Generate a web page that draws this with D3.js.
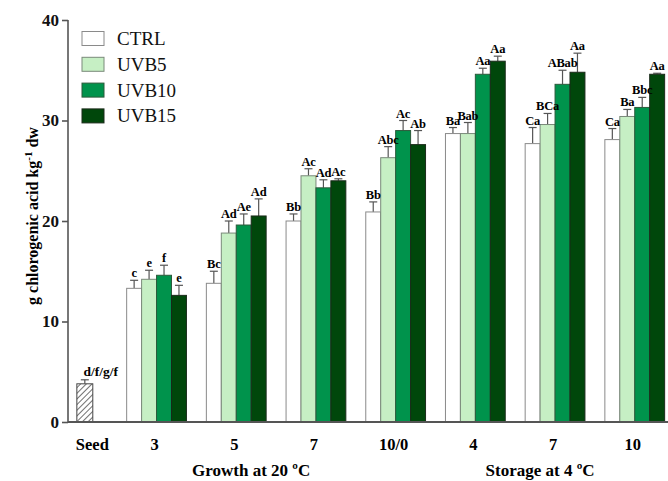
<!DOCTYPE html>
<html>
<head>
<meta charset="utf-8">
<script src="https://cdn.jsdelivr.net/npm/d3@7"></script>
<style>
  body { margin: 0; background: #fff; }
  svg { display: block; font-family: "Liberation Serif", "DejaVu Serif", serif; }
</style>
</head>
<body>
<svg id="chart" width="668" height="481"></svg>
<script>
// data
const series = ['CTRL', 'UVB5', 'UVB10', 'UVB15'];
const timepoints = ['3', '5', '7', '10/0', '4', '7 ', '10'];
const tickLabels = ['3', '5', '7', '10/0', '4', '7', '10'];
const phases = ['Growth at 20 \u00baC', 'Storage at 4 \u00baC'];
// label sits inside this group band, at this fraction of its width
const phaseAnchor = [['5', 0.75], ['7 ', 0.25]];

const ctrl  = [13.3, 13.8, 20.0, 20.9, 28.7, 27.7, 28.1];
const uvb5  = [14.2, 18.8, 24.5, 26.3, 28.7, 29.6, 30.4];
const uvb10 = [14.6, 19.6, 23.3, 29.0, 34.6, 33.6, 31.3];
const uvb15 = [12.6, 20.5, 24.0, 27.6, 35.9, 34.8, 34.6];

const ctrlErr  = [0.8, 1.2, 0.7, 1.0, 0.6, 1.6, 1.1];
const uvb5Err  = [0.9, 1.2, 0.7, 1.1, 1.1, 1.1, 0.7];
const uvb10Err = [1.0, 1.1, 0.8, 1.0, 0.6, 1.4, 1.0];
const uvb15Err = [1.0, 1.7, 0.2, 1.4, 0.5, 1.9, 0.1];

const ctrlLetters  = ['c', 'Bc', 'Bb', 'Bb', 'Ba', 'Ca', 'Ca'];
const uvb5Letters  = ['e', 'Ad', 'Ac', 'Abc', 'Bab', 'BCa', 'Ba'];
const uvb10Letters = ['f', 'Ae', 'Ad', 'Ac', 'Aa', 'ABab', 'Bbc'];
const uvb15Letters = ['e', 'Ad', 'Ac', 'Ab', 'Aa', 'Aa', 'Aa'];

const seedValue = 3.8;
const seedErr = 0.4;
const seedLetter = 'd/f/g/f';

const yTicks = [0, 10, 20, 30, 40];
const colors = ['#ffffff', '#c6efc4', '#00934c', '#00470b'];
const strokes = ['#8a8a8a', '#7a8a7a', '#2b5a3b', '#1a2a1a'];

const values = [ctrl, uvb5, uvb10, uvb15];
const errs = [ctrlErr, uvb5Err, uvb10Err, uvb15Err];
const letters = [ctrlLetters, uvb5Letters, uvb10Letters, uvb15Letters];

const svg = d3.select('#chart');
const axisX = 68, baseY = 422, topY = 20, rightX = 668;

const y = d3.scaleLinear().domain([0, 40]).range([baseY, topY]);
const x0 = d3.scaleBand().domain(['Seed'].concat(timepoints))
  .range([37, 674.6]).paddingInner(0.25).paddingOuter(0.125);
const x1 = d3.scaleBand().domain(series).range([0, x0.bandwidth()]);

// hatch for seed
const defs = svg.append('defs');
const pat = defs.append('pattern').attr('id', 'hatch').attr('patternUnits', 'userSpaceOnUse')
  .attr('width', 4).attr('height', 4).attr('patternTransform', 'rotate(45)');
pat.append('rect').attr('width', 4).attr('height', 4).attr('fill', '#fff');
pat.append('line').attr('x1', 0).attr('y1', 0).attr('x2', 0).attr('y2', 4)
  .attr('stroke', '#333').attr('stroke-width', 1.4);

const rows = [];
timepoints.forEach((t, i) => {
  series.forEach((s, j) => {
    rows.push({ t, s, j, v: values[j][i], e: errs[j][i], l: letters[j][i] });
  });
});

const bx = d => x0(d.t) + x1(d.s);
const bw = x1.bandwidth();

// error bars (drawn first so bars cover the lower half)
const errG = svg.append('g').attr('stroke', '#555').attr('stroke-width', 1.2);
rows.forEach(d => {
  const cx = bx(d) + bw / 2;
  errG.append('line').attr('x1', cx).attr('x2', cx).attr('y1', y(d.v)).attr('y2', y(d.v + d.e));
  errG.append('line').attr('x1', cx - 4).attr('x2', cx + 4).attr('y1', y(d.v + d.e)).attr('y2', y(d.v + d.e));
});

svg.append('g').selectAll('rect').data(rows).join('rect')
  .attr('x', bx).attr('width', bw)
  .attr('y', d => y(d.v)).attr('height', d => y(0) - y(d.v))
  .attr('fill', d => colors[d.j]).attr('stroke', d => strokes[d.j]).attr('stroke-width', 1);

svg.append('g').selectAll('text').data(rows).join('text')
  .attr('x', d => bx(d) + bw / 2).attr('y', d => y(d.v + d.e) - 3)
  .attr('text-anchor', 'middle').attr('font-size', 12.5).attr('font-weight', 'bold')
  .attr('letter-spacing', -0.2)
  .text(d => d.l);

// seed bar
const seedX = x0('Seed') + x0.bandwidth() / 2;
const seedW = bw + 1;
errG.append('line').attr('x1', seedX + seedW / 2).attr('x2', seedX + seedW / 2)
  .attr('y1', y(seedValue)).attr('y2', y(seedValue + seedErr));
errG.append('line').attr('x1', seedX + seedW / 2 - 4).attr('x2', seedX + seedW / 2 + 4)
  .attr('y1', y(seedValue + seedErr)).attr('y2', y(seedValue + seedErr));
svg.append('rect').attr('x', seedX).attr('width', seedW)
  .attr('y', y(seedValue)).attr('height', y(0) - y(seedValue))
  .attr('fill', 'url(#hatch)').attr('stroke', '#444').attr('stroke-width', 1);
svg.append('text').attr('x', seedX + seedW / 2 + 16).attr('y', y(seedValue + seedErr) - 4)
  .attr('text-anchor', 'middle').attr('font-size', 13.5).attr('font-weight', 'bold').text(seedLetter);

// y axis
const yAxis = svg.append('g').attr('transform', `translate(${axisX},0)`)
  .call(d3.axisLeft(y).tickValues(yTicks).tickSize(6).tickPadding(3));
yAxis.select('.domain').attr('stroke', '#555').attr('stroke-width', 1.6).attr('d', `M0,${topY}V${baseY}`);
yAxis.selectAll('.tick line').attr('stroke', '#555').attr('stroke-width', 1.6);
yAxis.selectAll('.tick text').attr('font-size', 17).attr('font-weight', 'bold')
  .attr('font-family', '"Liberation Serif", serif').attr('fill', '#111');

// x axis line
svg.append('line').attr('x1', axisX).attr('x2', rightX).attr('y1', baseY).attr('y2', baseY)
  .attr('stroke', '#555').attr('stroke-width', 2);

// x tick labels
svg.append('text').attr('x', seedX - 1).attr('y', 450).attr('font-size', 16.5)
  .attr('font-weight', 'bold').text('Seed');
svg.append('g').selectAll('text').data(timepoints).join('text')
  .attr('x', t => x0(t) + x0.bandwidth() / 2 - 2).attr('y', 450)
  .attr('text-anchor', 'middle').attr('font-size', 16.5).attr('font-weight', 'bold')
  .text((t, i) => tickLabels[i]);

// phase labels
svg.append('g').selectAll('text').data(phases).join('text')
  .attr('x', (p, i) => x0(phaseAnchor[i][0]) + x0.bandwidth() * phaseAnchor[i][1])
  .attr('y', 476).attr('text-anchor', 'middle').attr('font-size', 17).attr('font-weight', 'bold')
  .text(p => p);

// y label
const yl = svg.append('text').attr('transform', 'translate(38,216) rotate(-90)')
  .attr('text-anchor', 'middle').attr('font-size', 16).attr('font-weight', 'bold');
yl.append('tspan').text('g chlorogenic acid kg');
yl.append('tspan').attr('dy', -6).attr('font-size', 11).text('-1');
yl.append('tspan').attr('dy', 6).text(' dw');

// legend
const leg = svg.append('g').selectAll('g').data(series).join('g')
  .attr('transform', (s, i) => `translate(82,${31.5 + i * 25.8})`);
leg.append('rect').attr('width', 22).attr('height', 14)
  .attr('fill', (s, i) => colors[i]).attr('stroke', (s, i) => strokes[i]);
leg.append('text').attr('x', 35).attr('y', 13.5).attr('font-size', 19).attr('fill', '#111').text(s => s);
</script>
</body>
</html>
